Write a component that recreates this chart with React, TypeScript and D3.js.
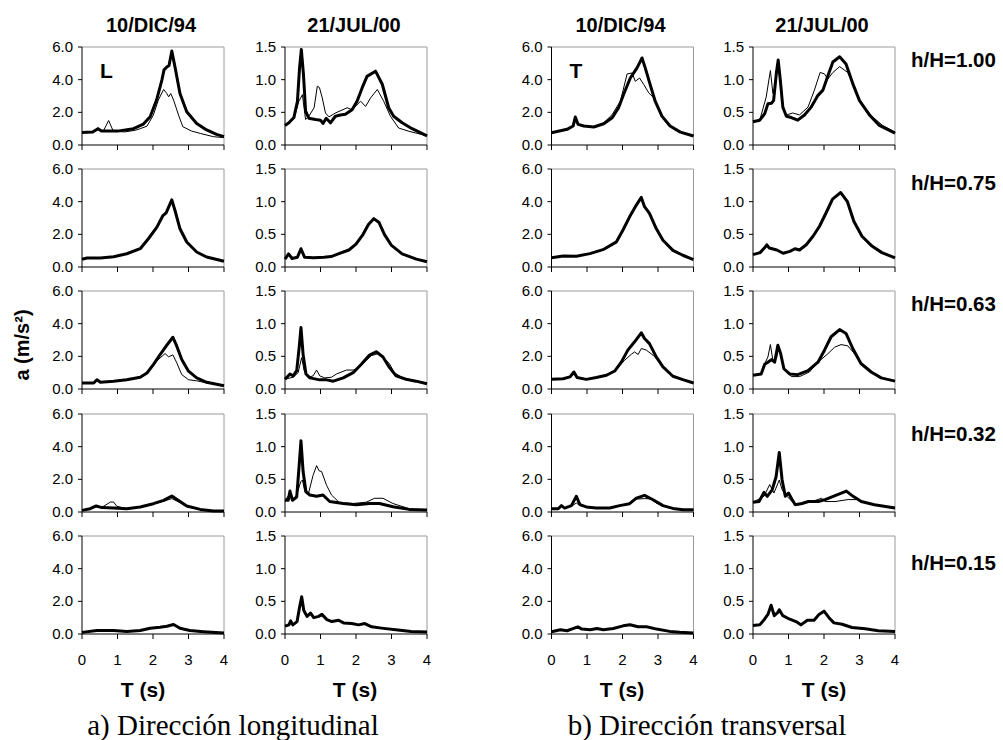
import React from "react";
import * as d3 from "d3";

type P = [number, number];

// ---------- titles / labels ----------
const colTitles = ["10/DIC/94", "21/JUL/00", "10/DIC/94", "21/JUL/00"];
const rowLabels = ["h/H=1.00", "h/H=0.75", "h/H=0.63", "h/H=0.32", "h/H=0.15"];
const dirLetters = ["L", "T"];
const captions = ["a) Dirección longitudinal", "b) Dirección transversal"];
const xTicks = [0, 1, 2, 3, 4];
const yTicks94 = [0, 2, 4, 6];
const yTicks00 = [0, 0.5, 1, 1.5];
const yMax = [6, 1.5, 6, 1.5];

// ---------- data (T [s], a [m/s²]) ----------
// row 1  h/H = 1.00
const L94_1_thick: P[] = [[0,0.77],[0.3,0.8],[0.45,1.0],[0.55,0.85],[1.0,0.85],[1.45,1.0],[1.73,1.28],[1.92,1.73],[2.1,2.75],[2.25,3.97],[2.31,4.6],[2.39,4.78],[2.45,4.85],[2.53,5.75],[2.62,4.78],[2.76,3.15],[2.95,2.03],[3.23,1.32],[3.51,0.92],[3.79,0.65],[4,0.51]];
const L94_1_thin: P[] = [[0,0.75],[0.3,0.8],[0.45,1.05],[0.6,0.85],[0.75,1.5],[0.88,0.85],[1.2,0.8],[1.5,0.9],[1.64,1.0],[1.83,1.15],[2.01,1.83],[2.15,2.75],[2.3,3.4],[2.39,3.15],[2.44,2.95],[2.5,3.15],[2.58,2.75],[2.72,1.83],[2.84,1.12],[3.09,0.85],[3.33,0.71],[3.7,0.51],[4,0.45]];
const L00_1_thick: P[] = [[0,0.3],[0.11,0.34],[0.25,0.42],[0.35,0.67],[0.41,1.18],[0.46,1.46],[0.52,1.08],[0.58,0.52],[0.67,0.41],[0.86,0.39],[1.0,0.38],[1.07,0.33],[1.16,0.41],[1.28,0.34],[1.42,0.44],[1.56,0.46],[1.7,0.47],[1.89,0.54],[2.03,0.67],[2.17,0.87],[2.31,1.05],[2.55,1.13],[2.74,0.93],[2.92,0.57],[3.06,0.44],[3.3,0.34],[3.58,0.25],[4,0.14]];
const L00_1_thin: P[] = [[0,0.3],[0.25,0.4],[0.39,0.67],[0.49,0.77],[0.58,0.39],[0.67,0.44],[0.82,0.57],[0.91,0.9],[0.97,0.88],[1.05,0.72],[1.14,0.49],[1.24,0.43],[1.42,0.49],[1.75,0.57],[1.89,0.54],[2.13,0.67],[2.27,0.59],[2.41,0.72],[2.6,0.85],[2.78,0.67],[2.97,0.44],[3.2,0.26],[3.49,0.21],[4,0.14]];
const T94_1_thick: P[] = [[0,0.75],[0.44,0.96],[0.61,1.16],[0.67,1.71],[0.75,1.26],[0.91,1.16],[1.19,1.1],[1.47,1.3],[1.71,1.67],[1.89,2.28],[2.03,3.09],[2.22,4.1],[2.41,4.72],[2.55,5.33],[2.64,4.72],[2.78,3.7],[2.92,2.68],[3.11,1.77],[3.34,1.16],[3.63,0.79],[4,0.55]];
const T94_1_thin: P[] = [[0,0.75],[0.44,0.96],[0.61,1.16],[0.67,1.6],[0.75,1.26],[0.91,1.16],[1.19,1.1],[1.47,1.35],[1.71,1.87],[1.94,2.68],[2.13,4.35],[2.27,4.41],[2.36,3.9],[2.48,4.1],[2.6,3.7],[2.74,3.19],[2.88,2.89],[3.02,2.28],[3.2,1.46],[3.4,1.05],[3.63,0.8],[4,0.57]];
const T00_1_thick: P[] = [[0,0.355],[0.19,0.38],[0.33,0.48],[0.42,0.63],[0.52,0.64],[0.58,0.68],[0.66,1.11],[0.71,1.3],[0.77,0.99],[0.84,0.58],[0.94,0.44],[1.08,0.42],[1.26,0.38],[1.45,0.46],[1.64,0.58],[1.83,0.76],[1.97,0.84],[2.11,1.06],[2.25,1.27],[2.44,1.35],[2.62,1.24],[2.81,0.94],[3.0,0.68],[3.28,0.46],[3.56,0.3],[4,0.18]];
const T00_1_thin: P[] = [[0,0.35],[0.2,0.4],[0.37,0.73],[0.49,1.14],[0.56,0.79],[0.62,0.89],[0.69,1.24],[0.75,1.04],[0.84,0.58],[0.94,0.46],[1.12,0.49],[1.31,0.46],[1.55,0.58],[1.73,0.84],[1.89,1.11],[2.01,1.09],[2.11,1.01],[2.25,1.11],[2.44,1.2],[2.67,1.11],[2.86,0.89],[3.04,0.63],[3.37,0.43],[3.65,0.3],[4,0.2]];

// row 2  h/H = 0.75
const L94_2_thick: P[] = [[0,0.47],[0.14,0.55],[0.52,0.55],[0.89,0.63],[1.26,0.81],[1.64,1.12],[1.87,1.73],[2.11,2.44],[2.28,3.15],[2.37,3.32],[2.44,3.66],[2.53,4.11],[2.62,3.46],[2.76,2.34],[2.95,1.53],[3.23,0.92],[3.51,0.61],[4,0.35]];
const L00_2_thick: P[] = [[0,0.12],[0.1,0.2],[0.2,0.13],[0.35,0.15],[0.45,0.28],[0.55,0.15],[0.8,0.14],[1.1,0.15],[1.3,0.16],[1.5,0.2],[1.8,0.26],[2.0,0.35],[2.2,0.5],[2.35,0.65],[2.5,0.74],[2.65,0.68],[2.8,0.5],[3.0,0.33],[3.3,0.2],[3.7,0.12],[4,0.08]];
const T94_2_thick: P[] = [[0,0.57],[0.33,0.68],[0.7,0.66],[1.08,0.82],[1.45,1.06],[1.83,1.54],[2.01,2.25],[2.2,3.07],[2.39,3.79],[2.53,4.26],[2.62,3.69],[2.76,3.28],[2.95,2.35],[3.14,1.64],[3.42,1.02],[3.7,0.72],[4,0.45]];
const T00_2_thick: P[] = [[0,0.19],[0.2,0.22],[0.32,0.29],[0.39,0.34],[0.46,0.29],[0.67,0.26],[0.85,0.21],[1.04,0.24],[1.18,0.28],[1.31,0.26],[1.5,0.34],[1.69,0.47],[1.87,0.62],[2.06,0.83],[2.24,1.04],[2.47,1.14],[2.66,1.0],[2.84,0.7],[3.07,0.47],[3.35,0.32],[3.63,0.22],[4,0.14]];

// row 3  h/H = 0.63
const L94_3_thick: P[] = [[0,0.37],[0.33,0.37],[0.42,0.57],[0.52,0.41],[0.89,0.47],[1.26,0.57],[1.64,0.72],[1.83,0.98],[2.01,1.49],[2.2,2.11],[2.39,2.68],[2.56,3.17],[2.67,2.62],[2.81,1.8],[3.0,1.09],[3.23,0.68],[3.51,0.41],[4,0.2]];
const L94_3_thin: P[] = [[0,0.37],[0.33,0.37],[0.42,0.52],[0.52,0.41],[0.89,0.47],[1.26,0.57],[1.64,0.72],[1.83,0.98],[2.01,1.49],[2.2,1.9],[2.34,2.17],[2.44,1.97],[2.56,2.09],[2.67,1.6],[2.81,0.88],[3.0,0.57],[3.23,0.5],[3.51,0.38],[4,0.2]];
const L00_3_thick: P[] = [[0,0.15],[0.14,0.23],[0.23,0.2],[0.33,0.28],[0.4,0.64],[0.45,0.94],[0.51,0.53],[0.59,0.23],[0.7,0.17],[0.98,0.14],[1.17,0.14],[1.36,0.12],[1.64,0.17],[1.92,0.25],[2.15,0.38],[2.38,0.52],[2.57,0.57],[2.76,0.49],[2.94,0.33],[3.13,0.2],[3.41,0.15],[3.69,0.12],[4,0.08]];
const L00_3_thin: P[] = [[0,0.15],[0.23,0.18],[0.37,0.25],[0.47,0.48],[0.54,0.28],[0.65,0.18],[0.79,0.2],[0.89,0.29],[0.98,0.2],[1.12,0.17],[1.31,0.18],[1.45,0.23],[1.73,0.29],[1.92,0.29],[2.1,0.33],[2.24,0.41],[2.43,0.51],[2.62,0.54],[2.8,0.46],[2.94,0.39],[3.08,0.25],[3.32,0.17],[3.69,0.12],[4,0.08]];
const T94_3_thick: P[] = [[0,0.59],[0.33,0.63],[0.52,0.74],[0.63,1.04],[0.72,0.7],[0.98,0.59],[1.26,0.7],[1.55,0.84],[1.78,1.1],[1.97,1.66],[2.15,2.38],[2.34,2.89],[2.53,3.44],[2.62,3.09],[2.76,2.78],[2.95,1.97],[3.14,1.35],[3.42,0.78],[3.7,0.57],[4,0.37]];
const T94_3_thin: P[] = [[0,0.59],[0.33,0.63],[0.52,0.72],[0.63,0.9],[0.72,0.7],[0.98,0.59],[1.26,0.7],[1.55,0.84],[1.78,1.1],[2.06,1.76],[2.25,2.13],[2.34,2.27],[2.44,2.11],[2.53,2.48],[2.67,2.38],[2.86,2.07],[3.0,1.76],[3.14,1.4],[3.42,0.8],[3.7,0.57],[4,0.37]];
const T00_3_thick: P[] = [[0,0.21],[0.23,0.23],[0.33,0.38],[0.42,0.41],[0.52,0.45],[0.61,0.41],[0.7,0.67],[0.78,0.54],[0.87,0.31],[1.03,0.23],[1.26,0.22],[1.55,0.28],[1.83,0.41],[2.01,0.59],[2.2,0.8],[2.44,0.91],[2.62,0.85],[2.81,0.62],[3.04,0.39],[3.33,0.26],[3.61,0.17],[4,0.12]];
const T00_3_thin: P[] = [[0,0.21],[0.23,0.23],[0.35,0.41],[0.42,0.49],[0.49,0.68],[0.56,0.44],[0.66,0.46],[0.72,0.64],[0.8,0.49],[0.89,0.3],[1.08,0.19],[1.31,0.19],[1.59,0.26],[1.83,0.41],[2.11,0.54],[2.3,0.64],[2.48,0.68],[2.67,0.66],[2.86,0.54],[3.04,0.39],[3.33,0.26],[3.61,0.17],[4,0.12]];

// row 4  h/H = 0.32
const L94_4_thick: P[] = [[0,0.1],[0.23,0.2],[0.4,0.37],[0.56,0.27],[0.89,0.24],[1.26,0.2],[1.64,0.31],[2.01,0.51],[2.3,0.71],[2.53,0.98],[2.72,0.71],[2.95,0.37],[3.33,0.16],[3.7,0.06],[4,0.06]];
const L94_4_thin: P[] = [[0,0.1],[0.23,0.18],[0.4,0.31],[0.61,0.35],[0.8,0.61],[0.89,0.61],[0.98,0.35],[1.26,0.2],[1.64,0.3],[2.01,0.48],[2.3,0.66],[2.53,0.82],[2.72,0.62],[2.95,0.33],[3.33,0.15],[3.7,0.06],[4,0.06]];
const L00_4_thick: P[] = [[0,0.18],[0.09,0.18],[0.14,0.32],[0.21,0.18],[0.33,0.23],[0.4,0.72],[0.45,1.09],[0.51,0.62],[0.59,0.31],[0.7,0.26],[0.89,0.24],[1.07,0.26],[1.26,0.16],[1.64,0.13],[2.01,0.11],[2.38,0.13],[2.66,0.13],[3.04,0.08],[3.5,0.04],[4,0.03]];
const L00_4_thin: P[] = [[0,0.18],[0.14,0.28],[0.21,0.18],[0.33,0.26],[0.44,0.46],[0.49,0.49],[0.56,0.31],[0.65,0.26],[0.79,0.56],[0.89,0.71],[0.96,0.63],[1.03,0.62],[1.17,0.41],[1.31,0.26],[1.54,0.14],[1.92,0.13],[2.29,0.15],[2.52,0.21],[2.76,0.21],[3.04,0.13],[3.5,0.05],[4,0.03]];
const T94_4_thick: P[] = [[0,0.2],[0.19,0.2],[0.28,0.39],[0.37,0.24],[0.56,0.39],[0.7,0.96],[0.8,0.45],[0.98,0.31],[1.26,0.24],[1.64,0.24],[1.92,0.39],[2.2,0.51],[2.39,0.85],[2.62,1.02],[2.86,0.75],[3.14,0.39],[3.42,0.22],[3.7,0.14],[4,0.14]];
const T94_4_thin: P[] = [[0,0.2],[0.19,0.2],[0.28,0.35],[0.37,0.24],[0.56,0.35],[0.7,0.55],[0.8,0.4],[0.98,0.31],[1.26,0.24],[1.64,0.24],[1.92,0.39],[2.2,0.5],[2.39,0.79],[2.62,0.82],[2.8,0.8],[2.95,0.55],[3.14,0.37],[3.42,0.22],[3.7,0.14],[4,0.14]];
const T00_4_thick: P[] = [[0,0.15],[0.17,0.16],[0.31,0.3],[0.4,0.24],[0.54,0.34],[0.65,0.54],[0.74,0.91],[0.82,0.49],[0.91,0.24],[1.0,0.29],[1.1,0.19],[1.19,0.11],[1.38,0.13],[1.56,0.16],[1.84,0.16],[2.03,0.19],[2.26,0.24],[2.49,0.29],[2.63,0.32],[2.82,0.24],[3.05,0.16],[3.42,0.11],[4,0.06]];
const T00_4_thin: P[] = [[0,0.15],[0.31,0.24],[0.47,0.42],[0.59,0.29],[0.74,0.49],[0.82,0.34],[0.96,0.24],[1.19,0.11],[1.66,0.16],[1.93,0.21],[2.03,0.16],[2.31,0.16],[2.68,0.19],[2.96,0.19],[3.14,0.14],[3.42,0.11],[4,0.06]];

// row 5  h/H = 0.15
const L94_5_thick: P[] = [[0,0.1],[0.42,0.21],[0.89,0.21],[1.26,0.16],[1.64,0.21],[1.92,0.35],[2.2,0.41],[2.39,0.47],[2.58,0.58],[2.76,0.35],[3.04,0.21],[3.42,0.14],[4,0.06]];
const L00_5_thick: P[] = [[0,0.12],[0.11,0.14],[0.16,0.2],[0.22,0.14],[0.34,0.19],[0.41,0.41],[0.47,0.57],[0.53,0.36],[0.62,0.27],[0.72,0.32],[0.81,0.25],[0.95,0.27],[1.04,0.3],[1.18,0.22],[1.32,0.19],[1.51,0.21],[1.65,0.17],[1.88,0.16],[2.07,0.14],[2.25,0.16],[2.44,0.11],[2.72,0.09],[3.18,0.06],[3.55,0.04],[4,0.03]];
const T94_5_thick: P[] = [[0,0.14],[0.25,0.26],[0.44,0.2],[0.62,0.34],[0.74,0.44],[0.86,0.3],[1.09,0.26],[1.28,0.34],[1.46,0.26],[1.74,0.34],[2.02,0.5],[2.21,0.57],[2.44,0.44],[2.68,0.44],[2.96,0.3],[3.33,0.16],[3.61,0.1],[4,0.06]];
const T00_5_thick: P[] = [[0,0.13],[0.19,0.14],[0.33,0.23],[0.42,0.3],[0.51,0.44],[0.6,0.28],[0.7,0.33],[0.74,0.37],[0.84,0.28],[1.02,0.23],[1.21,0.19],[1.35,0.14],[1.53,0.21],[1.72,0.21],[1.86,0.3],[2.0,0.35],[2.14,0.25],[2.28,0.17],[2.51,0.15],[2.79,0.1],[3.16,0.08],[3.53,0.05],[4,0.04]];

// grid of panels [row][col] -> {thick, thin}
const panelSeries: { thick: P[]; thin?: P[] }[][] = [
  [{ thick: L94_1_thick, thin: L94_1_thin }, { thick: L00_1_thick, thin: L00_1_thin }, { thick: T94_1_thick, thin: T94_1_thin }, { thick: T00_1_thick, thin: T00_1_thin }],
  [{ thick: L94_2_thick }, { thick: L00_2_thick }, { thick: T94_2_thick }, { thick: T00_2_thick }],
  [{ thick: L94_3_thick, thin: L94_3_thin }, { thick: L00_3_thick, thin: L00_3_thin }, { thick: T94_3_thick, thin: T94_3_thin }, { thick: T00_3_thick, thin: T00_3_thin }],
  [{ thick: L94_4_thick, thin: L94_4_thin }, { thick: L00_4_thick, thin: L00_4_thin }, { thick: T94_4_thick, thin: T94_4_thin }, { thick: T00_4_thick, thin: T00_4_thin }],
  [{ thick: L94_5_thick }, { thick: L00_5_thick }, { thick: T94_5_thick }, { thick: T00_5_thick }],
];

// ---------- layout ----------
const W = 1003;
const H = 740;
const colLeft = [82, 285, 551.5, 753];
const plotW = 142;
const rowTop = [47, 169, 291, 414, 536];
const plotH = 98;
const rowLabelDy = [20, 21, 20, 27, 34];
const xTitleCenters = [143, 355, 622, 824];
const captionCenters = [233, 707];

const SANS = "'Liberation Sans', Arial, sans-serif";
const SERIF = "'Liberation Serif', 'Times New Roman', serif";

function Panel({ r, c }: { r: number; c: number }) {
  const left = colLeft[c];
  const top = rowTop[r];
  const x = d3.scaleLinear().domain([0, 4]).range([left, left + plotW]);
  const y = d3.scaleLinear().domain([0, yMax[c]]).range([top + plotH, top]);
  const line = d3.line<P>().x((d) => x(d[0])).y((d) => y(d[1]));
  const yt = yMax[c] === 6 ? yTicks94 : yTicks00;
  const s = panelSeries[r][c];
  const bottom = top + plotH;
  return (
    <g>
      {/* plot frame (top/right gray) */}
      <line x1={left} x2={left + plotW} y1={top} y2={top} stroke="#9a9a9a" strokeWidth={1} />
      <line x1={left + plotW} x2={left + plotW} y1={top} y2={bottom} stroke="#9a9a9a" strokeWidth={1} />
      {/* curves */}
      {s.thin && (
        <path d={line(s.thin) || ""} fill="none" stroke="#000" strokeWidth={1} strokeLinejoin="round" />
      )}
      <path d={line(s.thick) || ""} fill="none" stroke="#000" strokeWidth={3} strokeLinejoin="round" />
      {/* axes */}
      <line x1={left} x2={left} y1={top} y2={bottom} stroke="#000" strokeWidth={1} />
      <line x1={left} x2={left + plotW} y1={bottom} y2={bottom} stroke="#000" strokeWidth={1} />
      {yt.map((t) => (
        <g key={"y" + t}>
          <line x1={left - 4} x2={left} y1={y(t)} y2={y(t)} stroke="#000" />
          <text x={left - 9} y={y(t) + 5} textAnchor="end" fontFamily={SANS} fontSize={15} fill="#000">
            {d3.format(".1f")(t)}
          </text>
        </g>
      ))}
      {xTicks.map((t) => (
        <line key={"x" + t} x1={x(t)} x2={x(t)} y1={bottom} y2={bottom + 5} stroke="#000" />
      ))}
      {r === rowTop.length - 1 &&
        xTicks.map((t) => (
          <text key={"xl" + t} x={x(t)} y={665} textAnchor="middle" fontFamily={SANS} fontSize={15} fill="#000">
            {t}
          </text>
        ))}
      {r === 0 && (c === 0 || c === 2) && (
        <text x={left + 18} y={top + 31} fontFamily={SANS} fontWeight="bold" fontSize={21} fill="#000">
          {dirLetters[c / 2]}
        </text>
      )}
    </g>
  );
}

export default function App() {
  const rows = d3.range(rowTop.length);
  const cols = d3.range(colLeft.length);
  return (
    <svg width={W} height={H} style={{ position: "absolute", left: 0, top: 0, background: "#fff" }}>
      <rect x={0} y={0} width={W} height={H} fill="#fff" />
      {rows.map((r) => cols.map((c) => <Panel key={r + "-" + c} r={r} c={c} />))}
      {cols.map((c) => (
        <text key={"ct" + c} x={colLeft[c] + plotW / 2 - 2} y={32} textAnchor="middle" fontFamily={SANS} fontWeight="bold" fontSize={20} fill="#000">
          {colTitles[c]}
        </text>
      ))}
      {rows.map((r) => (
        <text key={"rl" + r} x={911} y={rowTop[r] + rowLabelDy[r]} fontFamily={SANS} fontWeight="bold" fontSize={20.5} fill="#000">
          {rowLabels[r]}
        </text>
      ))}
      {cols.map((c) => (
        <text key={"xt" + c} x={xTitleCenters[c]} y={697} textAnchor="middle" fontFamily={SANS} fontWeight="bold" fontSize={21} fill="#000">
          T (s)
        </text>
      ))}
      <text transform="translate(29,345) rotate(-90)" textAnchor="middle" fontFamily={SANS} fontWeight="bold" fontSize={20} fill="#000">
        a (m/s²)
      </text>
      {captions.map((t, i) => (
        <text key={"cap" + i} x={captionCenters[i]} y={735} textAnchor="middle" fontFamily={SERIF} fontSize={29} fill="#000">
          {t}
        </text>
      ))}
    </svg>
  );
}
